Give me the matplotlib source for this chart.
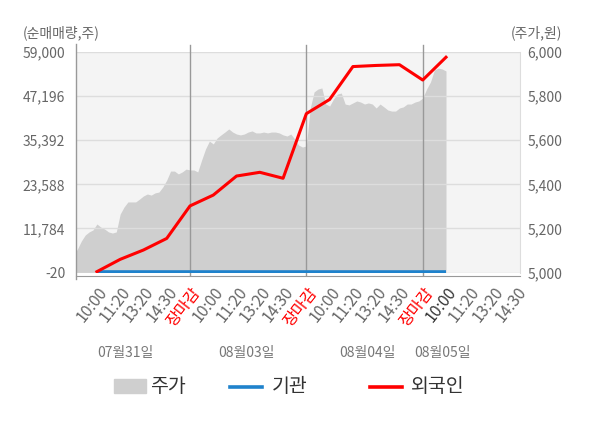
import numpy as np
import matplotlib
matplotlib.use('Agg')
import matplotlib.pyplot as plt
import matplotlib.transforms as mtransforms
from matplotlib.lines import Line2D
from matplotlib.patches import Rectangle

plt.rcParams['font.family'] = ['Noto Sans CJK KR', 'DejaVu Sans']

# 주가 (분봉, 07/31 09:00 ~ 08/05 10:00, 일정 간격 샘플)
price = [5079, 5107, 5143, 5170, 5184, 5193, 5220, 5206, 5197, 5184,
         5179, 5184, 5265, 5297, 5320, 5320, 5320, 5333, 5347, 5356,
         5351, 5361, 5365, 5388, 5419, 5460, 5460, 5447, 5456, 5469,
         5465, 5465, 5456, 5510, 5560, 5596, 5583, 5610, 5624, 5637,
         5651, 5637, 5628, 5624, 5628, 5637, 5642, 5633, 5633, 5637,
         5633, 5637, 5637, 5633, 5624, 5619, 5628, 5605, 5578, 5569,
         5574, 5746, 5819, 5832, 5837, 5764, 5755, 5787, 5809, 5814,
         5764, 5760, 5769, 5778, 5773, 5764, 5769, 5764, 5746, 5764,
         5751, 5737, 5732, 5732, 5746, 5751, 5764, 5764, 5773, 5778,
         5791, 5832, 5864, 5918, 5927, 5923, 5914]

# 누적 순매매량 (주), 시점별
inst = [0, 0, 0, 0, 0, 0, 0, 0, 0, 0, 0, 0, 0, 0, 0, 0]
foreign = [200, 3500, 6000, 9100, 17800, 20700, 25800, 26800, 25200,
           42500, 46300, 55100, 55400, 55600, 51500, 57600]

time_labels = ['10:00', '11:20', '13:20', '14:30', '장마감',
               '10:00', '11:20', '13:20', '14:30', '장마감',
               '10:00', '11:20', '13:20', '14:30', '장마감',
               '10:00', '11:20', '13:20', '14:30']
date_labels = ['07월31일', '08월03일', '08월04일', '08월05일']
left_ticks = [-20, 11784, 23588, 35392, 47196, 59000]
right_ticks = [5000, 5200, 5400, 5600, 5800, 6000]

GRAY = '#cfcfcf'
BLUE = '#1f82cc'
RED = '#ff0000'
W, H = 600, 428

fig = plt.figure(figsize=(6, 4.28), dpi=100)
axp = fig.add_axes([75.7 / W, 1 - 272.5 / H, 444.3 / W, 220.5 / H])
axp.set_facecolor('#f4f4f4')
axn = axp.twinx()
axp.yaxis.tick_right()
axn.yaxis.tick_left()

# 주가 영역 (오른쪽 축)
price_x = np.linspace(-1, 15, len(price))
axp.fill_between(price_x, 5000, price, color=GRAY, lw=0, zorder=0.2)
axp.set_ylim(5000, 6000)
axp.set_yticks(right_ticks)
axp.set_yticklabels([f'{v:,}' for v in right_ticks])
axp.grid(axis='y', color='#dddddd', lw=1)
axp.set_xlim(-0.911, 18.18)

for s in [4, 9, 14]:
    axp.axvline(s, ymin=-0.012, ymax=1.03, color='#999999', lw=1,
                clip_on=False, zorder=2)

# 순매매량 (왼쪽 축)
axn.plot(range(len(inst)), inst, color=BLUE, lw=2.6, solid_capstyle='butt')
axn.plot(range(len(foreign)), foreign, color=RED, lw=2.2)
axn.set_ylim(-20, 59000)
axn.set_yticks(left_ticks)
axn.set_yticklabels([f'{v:,}' for v in left_ticks])

# x축 라벨 (회전)
axp.set_xticks(range(len(time_labels)))
axp.tick_params(axis='x', length=0, labelbottom=False)
lab_tr = (mtransforms.blended_transform_factory(axp.transData, axp.transAxes)
          + mtransforms.ScaledTranslation(0.075, -0.17, fig.dpi_scale_trans))
for i, t in enumerate(time_labels):
    if t == '장마감':
        c = RED
    elif i == 15:
        c = '#333333'
    else:
        c = '#666666'
    axp.text(i, 0, t, transform=lab_tr, rotation=52, ha='right', va='center',
             rotation_mode='anchor', fontsize=11.5, color=c)

axp.tick_params(axis='y', length=0, pad=5.5, labelsize=10, labelcolor='#666666')
axn.tick_params(axis='y', length=0, pad=7.5, labelsize=10, labelcolor='#666666')

for sp in axn.spines.values():
    sp.set_visible(False)
axp.spines['top'].set_visible(False)
axp.spines['left'].set_visible(False)
axp.spines['right'].set_color('#dddddd')
axp.spines['bottom'].set_color('#999999')
axp.spines['bottom'].set_position(('outward', 2.5))
axp.plot([0, 0], [-0.03, 1.035], transform=axp.transAxes, color='#999999',
         lw=1, clip_on=False)

# 축 제목
fig.text(22.7 / W, 1 - 33 / H, '(순매매량,주)', ha='left', va='center',
         fontsize=10, color='#666666')
fig.text(561.7 / W, 1 - 33 / H, '(주가,원)', ha='right', va='center',
         fontsize=10, color='#666666')

# 날짜
tr = mtransforms.blended_transform_factory(axp.transData, fig.transFigure)
for d, x in zip(date_labels, [1.21, 6.41, 11.61, 14.83]):
    axp.text(x, 1 - 353.3 / H, d, transform=tr, ha='center', va='center',
             fontsize=10, color='#777777')

# 범례
ly = 1 - 386.7 / H
fig.patches.append(Rectangle((114.3 / W, 1 - 392.7 / H), 31.4 / W, 13.4 / H,
                             transform=fig.transFigure, color=GRAY))
fig.text(150 / W, ly, '주가', fontsize=14, color='#333333', va='center')
fig.add_artist(Line2D([230 / W, 261.7 / W], [ly, ly], color=BLUE, lw=2.6))
fig.text(272 / W, ly, '기관', fontsize=14, color='#333333', va='center')
fig.add_artist(Line2D([370 / W, 402 / W], [ly, ly], color=RED, lw=2.6))
fig.text(410.8 / W, ly, '외국인', fontsize=14, color='#333333', va='center')

fig.savefig('out.png', dpi=100)
